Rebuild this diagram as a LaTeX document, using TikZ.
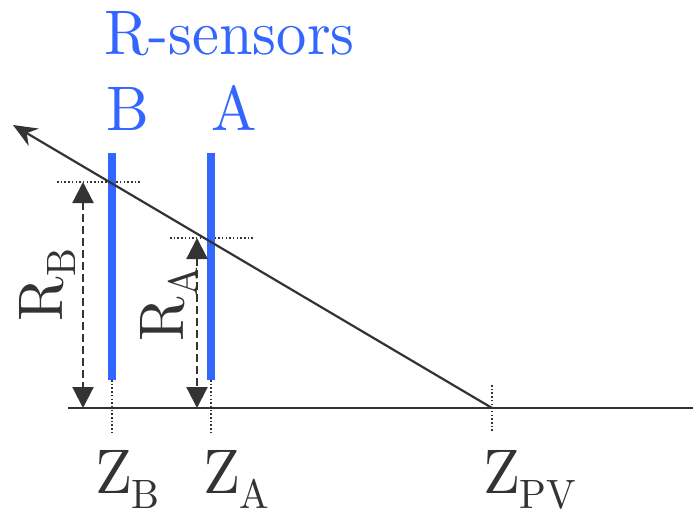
\documentclass[tikz,border=0pt]{standalone}
\usepackage{fontspec}
\newfontfamily\timesfont{lmroman10-regular.otf}[FakeStretch=0.96]
\usetikzlibrary{arrows.meta}
\definecolor{ink}{HTML}{333333}
\definecolor{sens}{HTML}{3366FF}
\newcommand{\bigtxt}{\timesfont\fontsize{63}{70}\selectfont}
\newcommand{\subtxt}[2]{\raisebox{-#1pt}{\fontsize{41}{45}\selectfont #2}}
\begin{document}
\begin{tikzpicture}[x=1pt,y=-1pt,
  label/.style={inner sep=0pt,outer sep=0pt,text=ink,font=\bigtxt},
  blue label/.style={inner sep=0pt,outer sep=0pt,text=sens,font=\bigtxt},
  axis/.style={draw=ink,line width=2.2pt},
  ray/.style={draw=ink,line width=2.2pt,-{Stealth[length=24pt,width=20pt,inset=8pt]}},
  sensor/.style={draw=sens,line width=8pt},
  guide/.style={draw=ink,line width=1.5pt,dash pattern=on 1.5pt off 2.2pt},
  radius/.style={draw=ink,line width=2.2pt,dash pattern=on 8pt off 4pt,
     {Triangle[length=21pt,width=21pt]}-{Triangle[length=21pt,width=21pt]}}]
\useasboundingbox (0,0) rectangle (696,517);
% coordinates
\coordinate (axL) at (68,408);
\coordinate (axR) at (693,408);
\coordinate (pv) at (492,408);
\coordinate (tip) at (13,125);
\coordinate (bTop) at (112,153);
\coordinate (bBot) at (112,380);
\coordinate (aTop) at (211,153);
\coordinate (aBot) at (211,380);
\coordinate (bHL) at (57,182);
\coordinate (bHR) at (142,182);
\coordinate (aHL) at (170,238);
\coordinate (aHR) at (255,238);
\coordinate (bVB) at (112,435);
\coordinate (aVB) at (211,435);
\coordinate (pvT) at (492,385);
\coordinate (pvB) at (492,433);
\coordinate (rbT) at (83,182);
\coordinate (rbB) at (83,408);
\coordinate (raT) at (197,238);
\coordinate (raB) at (197,408);
% guides
\draw[guide] (bHL) -- (bHR);
\draw[guide] (aHL) -- (aHR);
\draw[guide] (bBot) -- (bVB);
\draw[guide] (aBot) -- (aVB);
\draw[guide] (pvT) -- (pvB);
% sensors
\draw[sensor] (bTop) -- (bBot);
\draw[sensor] (aTop) -- (aBot);
% axis and ray
\draw[axis] (axL) -- (axR);
\draw[ray] (pv) -- (tip);
% radii
\draw[radius] (rbT) -- (rbB);
\draw[radius] (raT) -- (raB);
% labels
\node[blue label,anchor=base west] (title) at (104,54) {R-sensors};
\node[blue label,anchor=base west] (labB) at (106,130) {B};
\node[blue label,anchor=base west] (labA) at (211,130) {A};
\node[label,anchor=base west] (zb) at (95,493) {Z\subtxt{15}{B}};
\node[label,anchor=base west] (za) at (203,493) {Z\subtxt{15}{A}};
\node[label,anchor=base west] (zpv) at (483,493) {Z\subtxt{15}{PV}};
\node[label,anchor=base west,rotate=90] (rb) at (62,321) {R\subtxt{13}{B}};
\node[label,anchor=base west,rotate=90] (ra) at (183,341) {R\subtxt{14}{A}};
\end{tikzpicture}
\end{document}
